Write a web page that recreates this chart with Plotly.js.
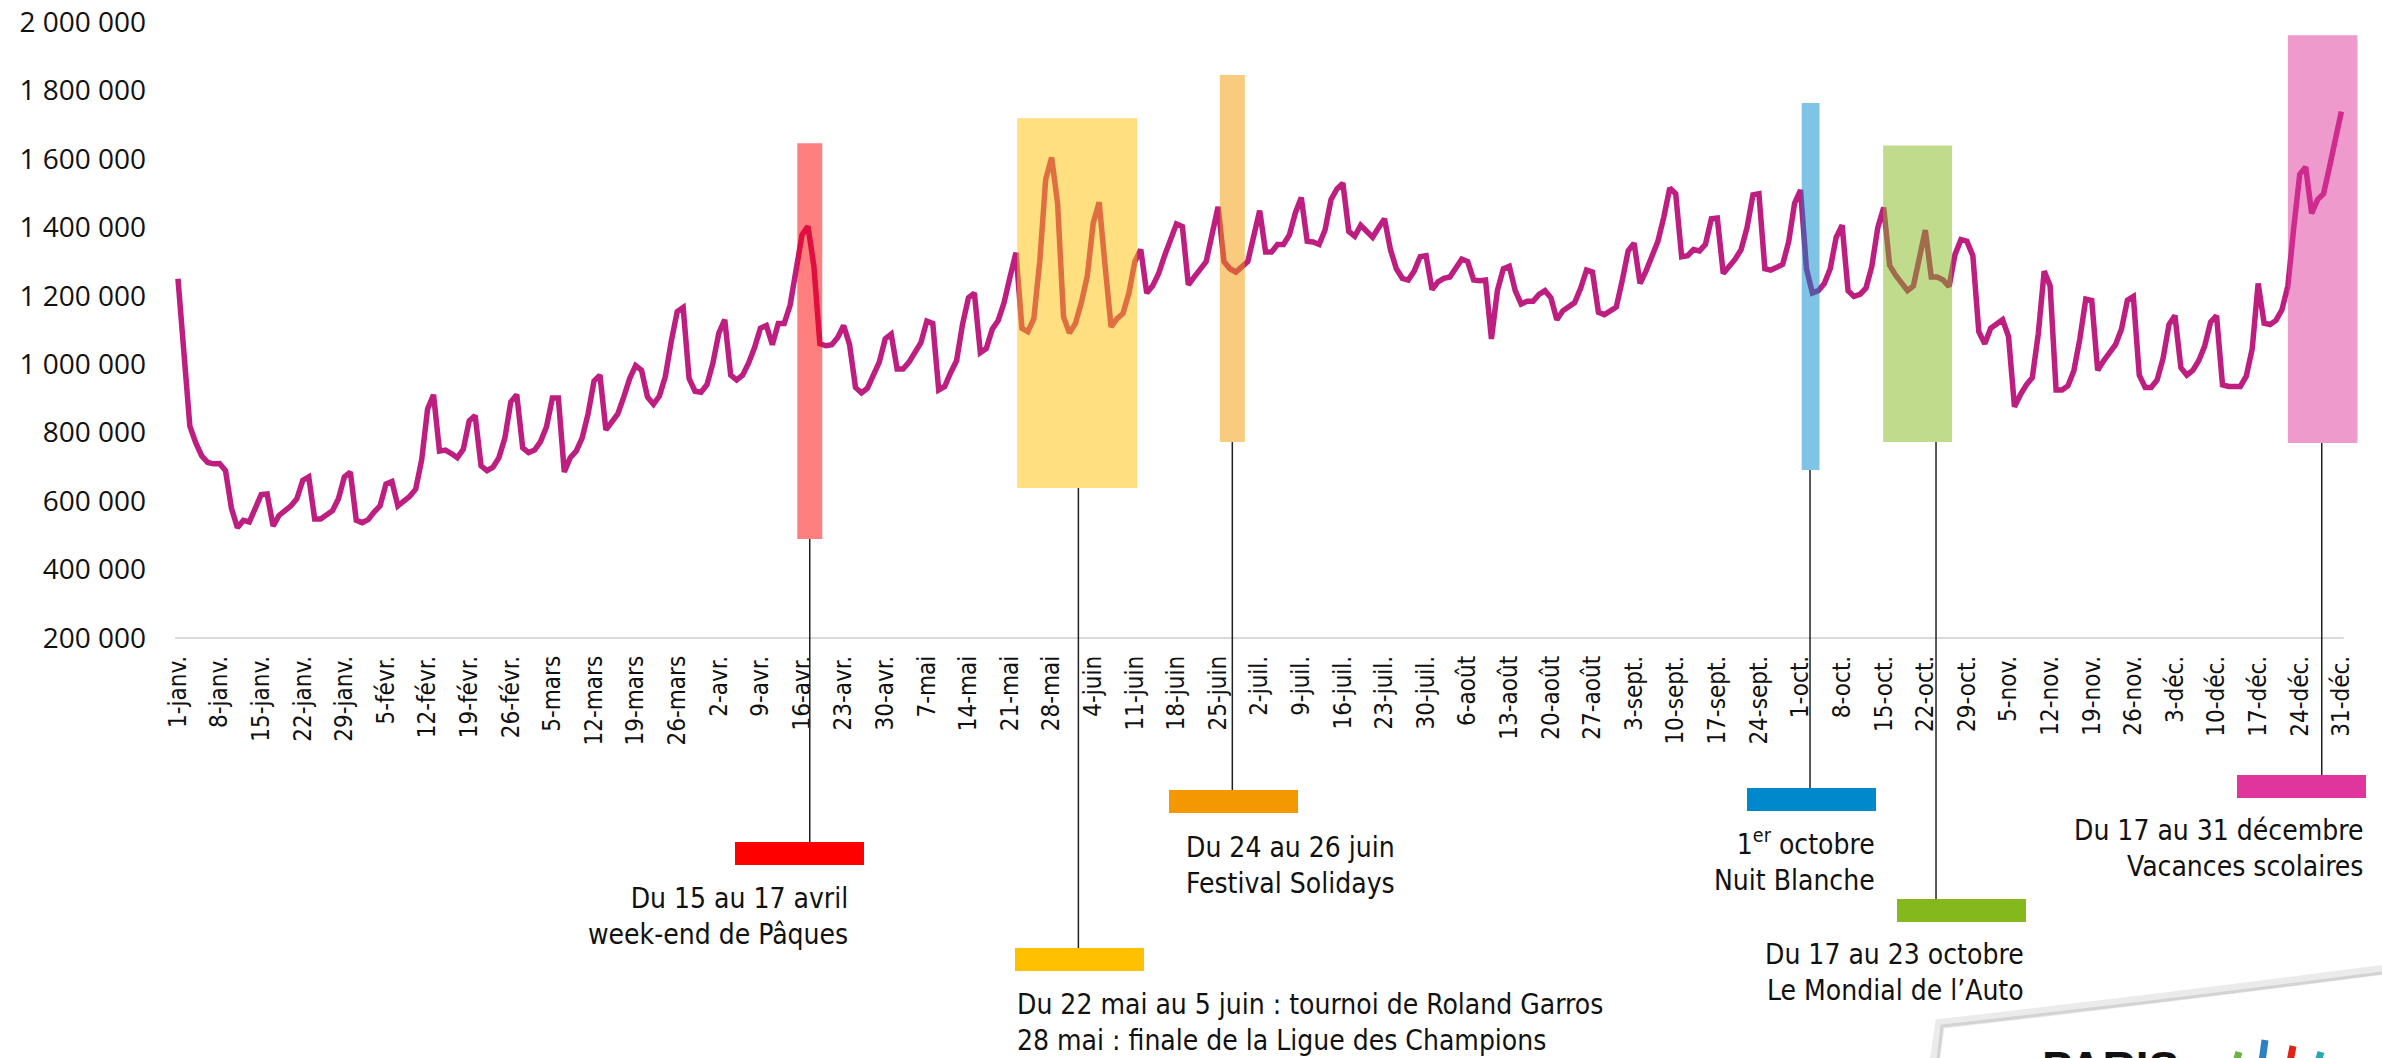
<!DOCTYPE html>
<html>
<head>
<meta charset="utf-8">
<script src="https://cdn.plot.ly/plotly-3.0.1.min.js"></script>
<style>
  html, body { margin: 0; padding: 0; background: #fff; }
  #chart { width: 2382px; height: 1058px; }
</style>
</head>
<body>
<div id="chart"></div>
<script>
// daily visitors, 1 Jan -> 31 Dec (thousands)
var visits = [
  1250, 1017, 819, 770, 732, 713, 709,
  710, 689, 579, 522, 544, 539, 579,
  619, 621, 527, 558, 572, 586, 607,
  661, 671, 548, 548, 561, 572, 607,
  671, 685, 544, 537, 546, 568, 586,
  650, 657, 586, 600, 614, 635, 720,
  869, 911, 746, 749, 739, 727, 751,
  834, 850, 703, 689, 699, 727, 784,
  890, 911, 756, 742, 749, 774, 817,
  901, 901, 685, 727, 746, 784, 855,
  951, 968, 808, 834, 855, 904, 958,
  996, 982, 904, 883, 907, 964, 1067,
  1154, 1166, 958, 921, 918, 940, 1003,
  1091, 1130, 968, 954, 968, 1003, 1048,
  1105, 1113, 1057, 1119, 1119, 1173, 1279,
  1378, 1403, 1286, 1060, 1054, 1057, 1078,
  1113, 1057, 932, 916, 930, 964, 1006,
  1074, 1088, 986, 986, 1006, 1031, 1063,
  1126, 1119, 925, 935, 975, 1010, 1116,
  1194, 1208, 1034, 1046, 1102, 1128, 1180,
  1255, 1326, 1105, 1095, 1133, 1300, 1540,
  1604, 1470, 1138, 1091, 1119, 1180, 1258,
  1413, 1473, 1286, 1109, 1133, 1148, 1208,
  1300, 1335, 1208, 1229, 1265, 1317, 1368,
  1410, 1402, 1232, 1255, 1279, 1300, 1380,
  1460, 1300, 1279, 1269, 1286, 1300, 1374,
  1449, 1328, 1328, 1350, 1350, 1378, 1442,
  1487, 1359, 1357, 1350, 1392, 1481, 1512,
  1529, 1388, 1374, 1406, 1388, 1371, 1399,
  1425, 1335, 1279, 1251, 1246, 1272, 1314,
  1317, 1218, 1241, 1251, 1255, 1283, 1307,
  1300, 1246, 1244, 1246, 1074, 1215, 1279,
  1286, 1215, 1176, 1184, 1184, 1204, 1215,
  1194, 1130, 1156, 1170, 1180, 1222, 1275,
  1269, 1152, 1145, 1158, 1167, 1244, 1331,
  1354, 1236, 1272, 1314, 1359, 1430, 1515,
  1498, 1314, 1317, 1335, 1331, 1350, 1425,
  1427, 1265, 1286, 1307, 1335, 1399, 1495,
  1498, 1279, 1275, 1283, 1292, 1357, 1470,
  1509, 1279, 1208, 1215, 1236, 1279, 1371,
  1406, 1215, 1198, 1204, 1222, 1286, 1399,
  1458, 1289, 1260, 1236, 1215, 1229, 1321,
  1392, 1255, 1255, 1246, 1227, 1321, 1364,
  1359, 1317, 1095, 1060, 1105, 1119, 1130,
  1081, 876, 911, 940, 961, 1088, 1272,
  1229, 925, 925, 937, 982, 1074, 1190,
  1186, 982, 1010, 1034, 1057, 1102, 1187,
  1198, 968, 932, 932, 954, 1017, 1116,
  1142, 990, 968, 982, 1010, 1053, 1123,
  1142, 940, 935, 935, 935, 965, 1045,
  1236, 1120, 1116, 1128, 1159, 1229, 1400,
  1555, 1576, 1441, 1481, 1498, 1576, 1661,
  1738
];

var tickLabels = [
  "1-janv.", "8-janv.", "15-janv.", "22-janv.", "29-janv.", "5-févr.", "12-févr.",
  "19-févr.", "26-févr.", "5-mars", "12-mars", "19-mars", "26-mars", "2-avr.",
  "9-avr.", "16-avr.", "23-avr.", "30-avr.", "7-mai", "14-mai", "21-mai",
  "28-mai", "4-juin", "11-juin", "18-juin", "25-juin", "2-juil.", "9-juil.",
  "16-juil.", "23-juil.", "30-juil.", "6-août", "13-août", "20-août", "27-août",
  "3-sept.", "10-sept.", "17-sept.", "24-sept.", "1-oct.", "8-oct.", "15-oct.",
  "22-oct.", "29-oct.", "5-nov.", "12-nov.", "19-nov.", "26-nov.", "3-déc.",
  "10-déc.", "17-déc.", "24-déc.", "31-déc."
];

var yTicks = [200000, 400000, 600000, 800000, 1000000, 1200000, 1400000, 1600000, 1800000, 2000000];

// events (day index of box edges and the leader line)
var eventNames = ["paques", "rolandgarros", "solidays", "nuitblanche", "mondial", "vacances"];
var eventStart = [104.2, 141.2, 175.3, 273.2, 286.9, 355.0];
var eventEnd   = [108.4, 161.4, 179.5, 276.2, 298.5, 366.7];
var eventLine  = [106.3, 151.5, 177.4, 274.6, 295.8, 360.7];
var eventText = [
  "Du 15 au 17 avril<br>week-end de Pâques",
  "Du 22 mai au 5 juin : tournoi de Roland Garros<br>28 mai : finale de la Ligue des Champions",
  "Du 24 au 26 juin<br>Festival Solidays",
  "1<sup>er</sup> octobre<br>Nuit Blanche",
  "Du 17 au 23 octobre<br>Le Mondial de l’Auto",
  "Du 17 au 31 décembre<br>Vacances scolaires"
];
var eventColors = ["#FF0000", "#FFC000", "#F39800", "#0088CC", "#84B81C", "#E0359C"];

// box vertical extent (value units), bar + label placement (pixels)
var boxLow  = [489000, 638000, 773000, 691000, 773000, 770000];
var boxHigh = [1646000, 1719000, 1845000, 1763000, 1639000, 1961000];
var barLeft = [735, 1015, 1169, 1747, 1897, 2237];
var barTop  = [842, 948, 790, 788, 899, 775];
var textX   = [850, 1015, 1184, 1877, 2026, 2366];
var textY   = [916, 1022, 865, 861, 972, 848];
var textAnchor = ["right", "left", "left", "right", "right", "right"];

var W = 2382, H = 1058;
var M = { l: 175, r: 24, t: 22, b: 420 };
var plotW = W - M.l - M.r, plotH = H - M.t - M.b;
function px(x) { return (x - M.l) / plotW; }
function py(y) { return (H - M.b - y) / plotH; }

var days = visits.map(function (_, i) { return i; });
var values = visits.map(function (v) { return v * 1000; });

var shapes = [];
// axis line
shapes.push({
  type: "line", xref: "x", yref: "paper", x0: -0.5, x1: 364.4, y0: 0, y1: 0,
  line: { color: "#D9D9D9", width: 2 }
});

var annotations = [];
for (var i = 0; i < eventNames.length; i++) {
  shapes.push({
    type: "rect", xref: "x", yref: "y", layer: "above",
    x0: eventStart[i], x1: eventEnd[i], y0: boxLow[i], y1: boxHigh[i],
    fillcolor: eventColors[i], opacity: 0.5, line: { width: 0 }
  });
  var lowPaper = (boxLow[i] - 200000) / 1800000;
  shapes.push({
    type: "line", xref: "x", yref: "paper", layer: "above",
    x0: eventLine[i], x1: eventLine[i], y0: lowPaper, y1: py(barTop[i]),
    line: { color: "#222", width: 1.5 }
  });
  shapes.push({
    type: "rect", xref: "paper", yref: "paper", layer: "above",
    x0: px(barLeft[i]), x1: px(barLeft[i] + 129), y0: py(barTop[i]), y1: py(barTop[i] + 23),
    fillcolor: eventColors[i], line: { width: 0 }
  });
  annotations.push({
    xref: "paper", yref: "paper", x: px(textX[i]), y: py(textY[i]),
    xanchor: textAnchor[i], yanchor: "middle", align: textAnchor[i],
    text: eventText[i], showarrow: false,
    font: { family: "'Liberation Sans Narrow', 'DejaVu Sans Condensed', sans-serif", size: 28, color: "#111" }
  });
}

// logo card peeking in the bottom right corner
shapes.push({
  type: "path", xref: "paper", yref: "paper", layer: "above",
  path: "M " + px(1935) + " " + py(1060) + " L " + px(1940) + " " + py(1024) +
        " Q " + px(2150) + " " + py(1000) + " " + px(2382) + " " + py(970),
  line: { color: "rgba(0,0,0,0.08)", width: 10 }
});
shapes.push({
  type: "path", xref: "paper", yref: "paper", layer: "above",
  path: "M " + px(1938) + " " + py(1060) + " L " + px(1942) + " " + py(1026) +
        " Q " + px(2150) + " " + py(1003) + " " + px(2382) + " " + py(973),
  line: { color: "rgba(0,0,0,0.10)", width: 3 }
});
var logoColors = ["#6CB33F", "#2E7FC4", "#E2231A", "#29A9B5"];
var logoX = [2236, 2262, 2290, 2318];
var logoTop = [1052, 1040, 1046, 1052];
for (var k = 0; k < logoColors.length; k++) {
  shapes.push({
    type: "line", xref: "paper", yref: "paper", layer: "above",
    x0: px(logoX[k]), x1: px(logoX[k] + 3), y0: py(1062), y1: py(logoTop[k]),
    line: { color: logoColors[k], width: 7 }
  });
}
annotations.push({
  xref: "paper", yref: "paper", x: px(2040), y: py(1040), xanchor: "left", yanchor: "top",
  text: "<b>PARIS</b>", showarrow: false,
  font: { family: "'Liberation Sans', sans-serif", size: 46, color: "#111" }
});

var trace = {
  x: days, y: values, type: "scatter", mode: "lines",
  line: { color: "#BE1E80", width: 5.5 },
  hoverinfo: "skip"
};

var layout = {
  width: W, height: H,
  margin: M,
  paper_bgcolor: "#fff", plot_bgcolor: "#fff",
  separators: ", ",
  showlegend: false,
  xaxis: {
    range: [-0.5, 366.8],
    tickvals: tickLabels.map(function (_, i) { return i * 7; }),
    ticktext: tickLabels,
    tickangle: -90,
    ticks: "", showgrid: false, zeroline: false, showline: false,
    ticklabelstandoff: 12,
    tickfont: { family: "'Liberation Sans Narrow', 'DejaVu Sans Condensed', sans-serif", size: 24, color: "#111" }
  },
  yaxis: {
    range: [200000, 2000000],
    tickvals: yTicks,
    tickformat: ",d",
    ticks: "", showgrid: false, zeroline: false, showline: false,
    ticklabelstandoff: 28,
    tickfont: { family: "'Open Sans', sans-serif", size: 28, color: "#111" }
  },
  shapes: shapes,
  annotations: annotations
};

Plotly.newPlot("chart", [trace], layout, { staticPlot: true });
</script>
</body>
</html>
